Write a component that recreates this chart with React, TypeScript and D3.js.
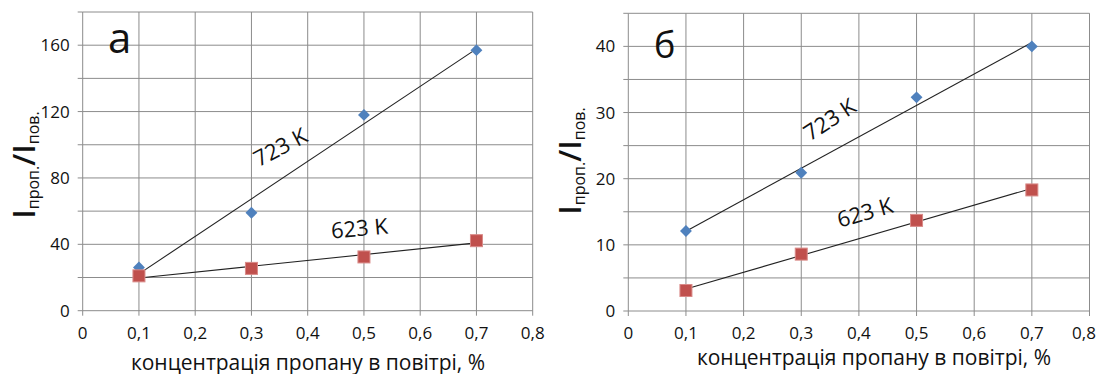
import React, { useRef, useEffect } from 'react';
import * as d3 from 'd3';

// concentration of propane in air, %
const conc = [0.1, 0.3, 0.5, 0.7];

// panel "а"
const a723 = [26, 59, 118, 157];
const a623 = [21, 25.5, 32.4, 42.2];
// panel "б"
const b723 = [12.1, 20.9, 32.3, 40];
const b623 = [3.1, 8.6, 13.7, 18.3];

const xTicks = [0, 0.1, 0.2, 0.3, 0.4, 0.5, 0.6, 0.7, 0.8];
const aGrid = [0, 20, 40, 60, 80, 100, 120, 140, 160, 180];
const aLabels = [0, 40, 80, 120, 160];
const bGrid = [0, 5, 10, 15, 20, 25, 30, 35, 40, 45];
const bLabels = [0, 10, 20, 30, 40];

const FONT = '"Open Sans", "Noto Sans", sans-serif';
const BLUE = '#4f81bd';
const RED = '#c0504d';
const GRID = '#8c8c8c';

const fmtX = (d) => (d === 0 ? '0' : d3.format('.1f')(d).replace('.', ','));

// least squares line, like the Excel trendline
const fit = (xs, ys) => {
  const mx = d3.mean(xs);
  const my = d3.mean(ys);
  const k = d3.sum(xs, (x, i) => (x - mx) * (ys[i] - my)) / d3.sum(xs, (x) => (x - mx) ** 2);
  return (x) => my + k * (x - mx);
};

const drawPanel = (svg, p) => {
  const x = d3.scaleLinear().domain([0, 0.8]).range(p.xr);
  const y = d3.scaleLinear().domain(p.yd).range(p.yr);
  const g = svg.append('g');

  // grid
  g.selectAll('.hg')
    .data(p.grid)
    .enter()
    .append('line')
    .attr('x1', x(0))
    .attr('x2', x(0.8))
    .attr('y1', (d) => y(d))
    .attr('y2', (d) => y(d))
    .attr('stroke', GRID)
    .attr('stroke-width', 1);
  g.selectAll('.vg')
    .data(xTicks)
    .enter()
    .append('line')
    .attr('x1', (d) => x(d))
    .attr('x2', (d) => x(d))
    .attr('y1', y(p.yd[1]))
    .attr('y2', y(0) + 5)
    .attr('stroke', GRID)
    .attr('stroke-width', 1);
  // y tick marks
  g.selectAll('.yt')
    .data(p.grid)
    .enter()
    .append('line')
    .attr('x1', x(0) - 5)
    .attr('x2', x(0))
    .attr('y1', (d) => y(d))
    .attr('y2', (d) => y(d))
    .attr('stroke', GRID);

  // tick labels
  g.selectAll('.yl')
    .data(p.labels)
    .enter()
    .append('text')
    .attr('x', x(0) - 13)
    .attr('y', (d) => y(d) + 6)
    .attr('text-anchor', 'end')
    .attr('font-family', FONT)
    .attr('font-size', 17)
    .attr('fill', '#111')
    .text((d) => d);
  g.selectAll('.xl')
    .data(xTicks)
    .enter()
    .append('text')
    .attr('x', (d) => Math.min(x(d), 1084))
    .attr('y', y(0) + 28)
    .attr('text-anchor', 'middle')
    .attr('font-family', FONT)
    .attr('font-size', 17)
    .attr('fill', '#111')
    .text(fmtX);

  // trendlines
  [p.s723, p.s623].forEach((s) => {
    const f = fit(conc, s);
    g.append('line')
      .attr('x1', x(0.1))
      .attr('y1', y(f(0.1)))
      .attr('x2', x(0.7))
      .attr('y2', y(f(0.7)))
      .attr('stroke', '#222')
      .attr('stroke-width', 1.1);
  });

  // markers
  g.selectAll('.dm')
    .data(p.s723)
    .enter()
    .append('path')
    .attr('d', d3.symbol(d3.symbolDiamond2, 90))
    .attr('transform', (d, i) => `translate(${x(conc[i])},${y(d)})`)
    .attr('fill', BLUE);
  g.selectAll('.sq')
    .data(p.s623)
    .enter()
    .append('rect')
    .attr('x', (d, i) => x(conc[i]) - 6)
    .attr('y', (d) => y(d) - 6)
    .attr('width', 12)
    .attr('height', 12)
    .attr('fill', RED)
    .attr('stroke', '#d98a88')
    .attr('stroke-width', 1);

  // series labels
  p.tags.forEach((t) => {
    g.append('text')
      .attr('transform', `translate(${t.x},${t.y}) rotate(${t.r})`)
      .attr('text-anchor', 'middle')
      .attr('font-family', FONT)
      .attr('font-size', 22)
      .attr('fill', '#111')
      .text(t.text);
  });

  // panel letter
  g.append('text')
    .attr('x', p.letter.x)
    .attr('y', p.letter.y)
    .attr('font-family', FONT)
    .attr('font-size', p.letter.size)
    .attr('fill', '#111')
    .text(p.letter.text);

  // y title: I проп. / I пов.
  const yt = g
    .append('text')
    .attr('transform', `translate(${p.yTitle.x},${p.yTitle.y}) rotate(-90)`)
    .attr('text-anchor', 'middle')
    .attr('font-family', FONT)
    .attr('fill', '#111');
  yt.append('tspan').attr('font-size', 31).attr('font-weight', 600).text('I');
  yt.append('tspan').attr('font-size', 16).attr('dy', 4).text('проп.');
  yt.append('tspan').attr('font-size', 31).attr('font-weight', 600).attr('dy', -4).text('/');
  yt.append('tspan').attr('font-size', 31).attr('font-weight', 600).text('I');
  yt.append('tspan').attr('font-size', 16).attr('dy', 4).text('пов.');

  // x title
  g.append('text')
    .attr('x', p.xTitle.x)
    .attr('y', p.xTitle.y)
    .attr('text-anchor', 'middle')
    .attr('font-family', FONT)
    .attr('font-size', 21)
    .attr('fill', '#111')
    .text('концентрація пропану в повітрі, %');
};

const App = () => {
  const ref = useRef(null);

  useEffect(() => {
    const svg = d3.select(ref.current);
    svg.selectAll('*').remove();

    drawPanel(svg, {
      xr: [82.7, 532.7],
      yd: [0, 180],
      yr: [310.7, 12],
      grid: aGrid,
      labels: aLabels,
      s723: a723,
      s623: a623,
      tags: [
        { text: '723 K', x: 284, y: 154, r: -28 },
        { text: '623 K', x: 360, y: 236, r: -5 },
      ],
      letter: { text: 'а', x: 108, y: 53, size: 42 },
      yTitle: { x: 35, y: 165 },
      xTitle: { x: 308, y: 370 },
    });

    drawPanel(svg, {
      xr: [628.3, 1089.5],
      yd: [0, 45],
      yr: [311, 13.3],
      grid: bGrid,
      labels: bLabels,
      s723: b723,
      s623: b623,
      tags: [
        { text: '723 K', x: 834, y: 126, r: -33 },
        { text: '623 K', x: 867, y: 220, r: -16 },
      ],
      letter: { text: 'б', x: 654, y: 58, size: 36 },
      yTitle: { x: 581, y: 161 },
      xTitle: { x: 874, y: 365 },
    });
  }, []);

  return (
    <svg
      ref={ref}
      width={1099}
      height={374}
      style={{ position: 'absolute', left: 0, top: 0, background: '#fff' }}
    ></svg>
  );
};

export default App;
